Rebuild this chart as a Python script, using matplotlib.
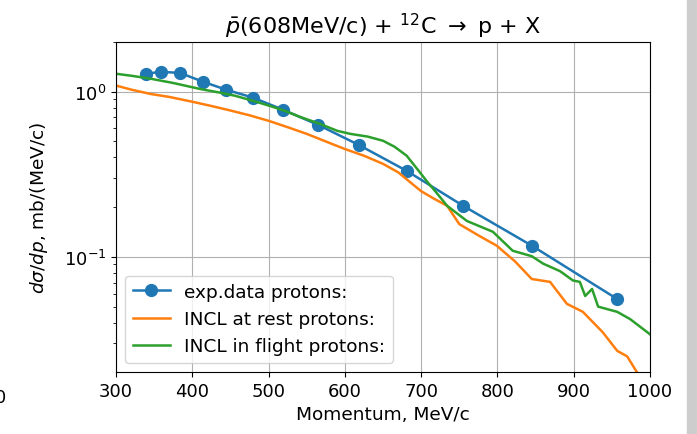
import matplotlib
matplotlib.use("Agg")
import matplotlib.pyplot as plt
from matplotlib.patches import Rectangle

# experimental points
exp_p = [339, 359, 384, 414, 444, 480, 519, 565, 618, 681, 755, 845, 957]
exp_xs = [1.285, 1.32, 1.30, 1.15, 1.03, 0.92, 0.778, 0.63, 0.477, 0.332, 0.204, 0.117, 0.0556]

# INCL at rest
rest_p = [300, 320, 345, 370, 400, 425, 450, 475, 500, 525, 550, 575, 600, 625, 650,
          670, 683, 700, 717, 734, 750, 775, 799, 823, 845, 869, 891, 912, 938, 957,
          970, 983, 995]
rest_xs = [1.09, 1.03, 0.97, 0.93, 0.87, 0.82, 0.77, 0.72, 0.667, 0.61, 0.556, 0.50, 0.45,
           0.41, 0.366, 0.325, 0.29, 0.25, 0.225, 0.204, 0.158, 0.135, 0.117, 0.094, 0.0735,
           0.0706, 0.052, 0.0465, 0.035, 0.027, 0.025, 0.020, 0.018]

# INCL in flight
flight_p = [300, 320, 345, 375, 410, 435, 456, 480, 502, 520, 541, 567, 590, 607, 630,
            650, 665, 681, 695, 708, 720, 734, 760, 794, 820, 845, 860, 882, 899, 908,
            915, 924, 932, 957, 974, 1000]
flight_xs = [1.285, 1.25, 1.2, 1.13, 1.04, 0.99, 0.946, 0.88, 0.82, 0.77, 0.705, 0.64,
             0.58, 0.556, 0.535, 0.505, 0.465, 0.41, 0.34, 0.285, 0.245, 0.204, 0.165,
             0.142, 0.109, 0.101, 0.091, 0.082, 0.072, 0.0706, 0.058, 0.064, 0.05,
             0.0465, 0.042, 0.034]

fig = plt.figure(figsize=(6.97, 4.35), dpi=100)
ax = fig.add_axes([0.1664, 0.1425, 0.7662, 0.7586])

ax.plot(exp_p, exp_xs, marker='o', markersize=8.5, color='tab:blue', lw=1.8, label='exp.data protons:')
ax.plot(rest_p, rest_xs, color='tab:orange', lw=1.8, label='INCL at rest protons:')
ax.plot(flight_p, flight_xs, color='tab:green', lw=1.8, label='INCL in flight protons:')

ax.set_yscale('log')
ax.set_xlim(300, 1000)
ax.set_ylim(0.0201, 2.0)
ax.grid(True, color='#b0b0b0')
ax.tick_params(labelsize=13)
ax.set_title(r'$\bar{p}$(608MeV/c) + $^{12}$C $\rightarrow$ p + X', fontsize=16)
ax.set_xlabel('Momentum, MeV/c', fontsize=13.3)
ax.set_ylabel(r'$d\sigma/dp$, mb/(MeV/c)', fontsize=13.3, labelpad=10)
ax.legend(loc='lower left', fontsize=13.3)

# leftovers of the screenshot: neighbouring tick label and grey strip
fig.text(-0.007, 0.074, '0', fontsize=13)
fig.patches.append(Rectangle((0.986, 0), 0.014, 1, transform=fig.transFigure,
                             color='#cdcdcd', zorder=-1))

fig.savefig('out.png', dpi=100)
